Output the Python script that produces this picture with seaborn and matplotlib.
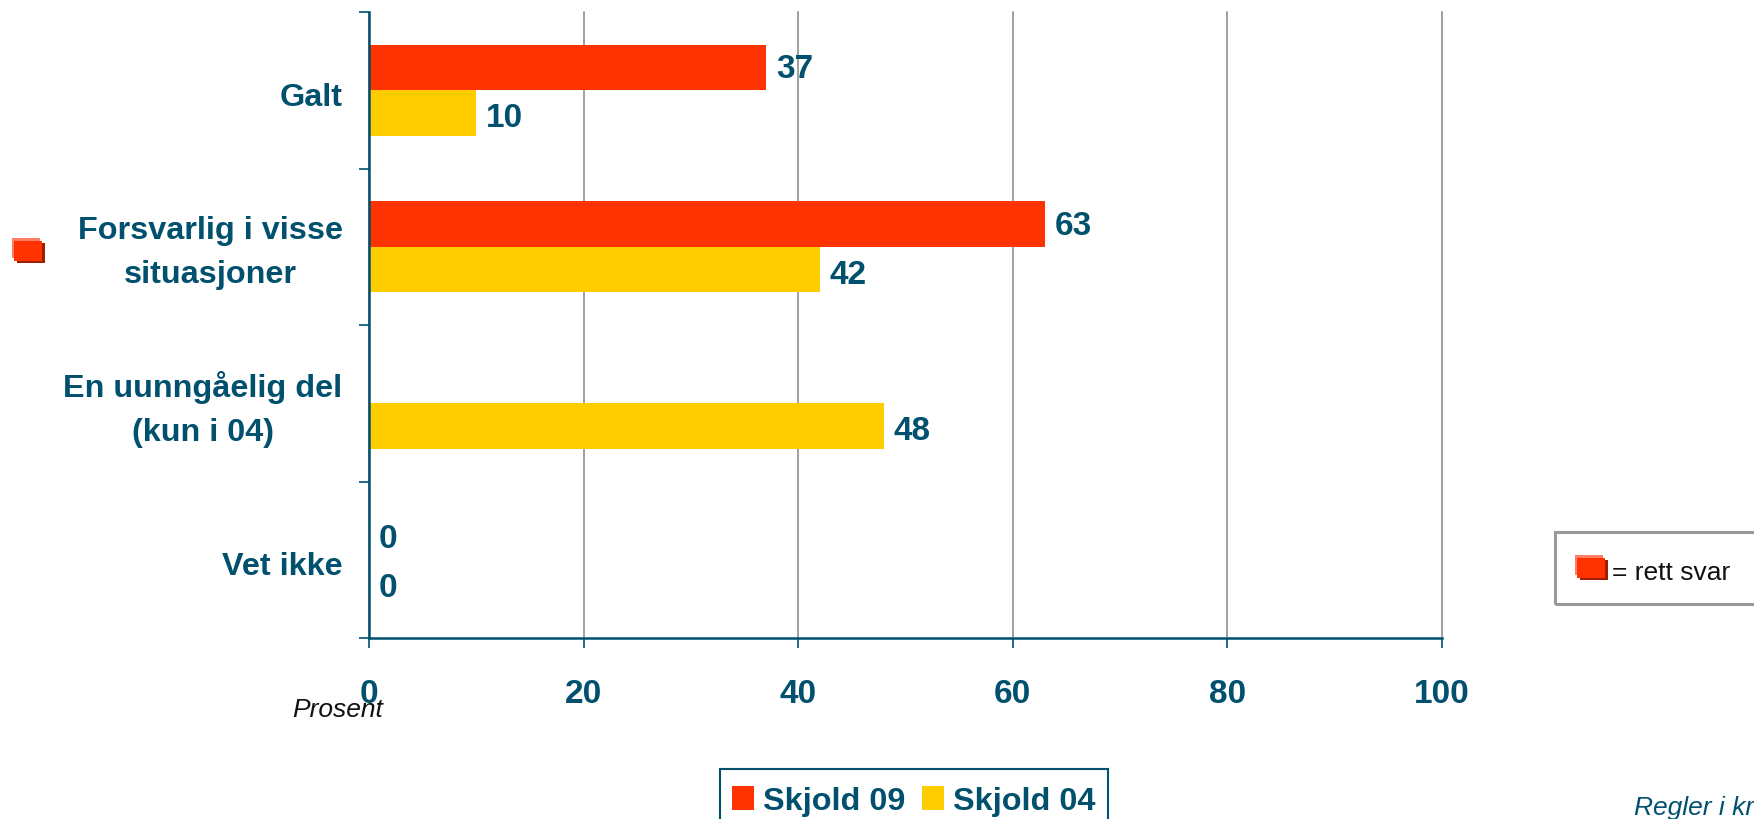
import matplotlib
matplotlib.use("Agg")
import matplotlib.pyplot as plt
import numpy as np
import pandas as pd
import seaborn as sns
from matplotlib.patches import Rectangle
from matplotlib.transforms import ScaledTranslation

categories = ["Galt", "Forsvarlig i visse\nsituasjoner", "En uunngåelig del\n(kun i 04)", "Vet ikke"]
skjold_09 = [37, 63, np.nan, 0]
skjold_04 = [10, 42, 48, 0]
x_ticks = [0, 20, 40, 60, 80, 100]

TEAL = "#00506E"
RED = "#FF3300"
YELLOW = "#FFCC00"
GREY = "#A0A0A0"
W, H = 1754, 820

sns.set_theme(style="white")
plt.rcParams["font.family"] = ["Liberation Sans", "DejaVu Sans"]

df = pd.DataFrame({"Svar": categories, "Skjold 09": skjold_09, "Skjold 04": skjold_04})
df = df.melt(id_vars="Svar", var_name="Skjema", value_name="Prosent")

fig = plt.figure(figsize=(W/100, H/100), dpi=100, facecolor="white")
ax = fig.add_axes([369/W, 1-639/H, (1442-369)/W, (639-13)/H])

sns.barplot(data=df, y="Svar", x="Prosent", hue="Skjema", order=categories,
	palette={"Skjold 09": RED, "Skjold 04": YELLOW},
	width=0.58, gap=0, saturation=1, errorbar=None, linewidth=0, ax=ax, zorder=3)

ax.set_xlim(0, 100)
ax.set_ylim(len(categories)-0.5, -0.5)
ax.set_xlabel("")
ax.set_ylabel("")

ax.set_xticks(x_ticks)
ax.set_xticklabels([str(t) for t in x_ticks], fontsize=24, fontweight="bold", color=TEAL)
ax.tick_params(axis="x", length=7, width=1.2, color=TEAL, pad=22, bottom=True)

# category labels sit between the tick marks, ticks are on the band edges
ax.set_yticks(np.arange(-0.5, len(categories)))
ax.set_yticklabels([])
ax.tick_params(axis="y", which="major", length=7, width=1.2, color=TEAL, left=True)
ax.set_yticks(np.arange(len(categories)), minor=True)
ax.set_yticklabels(categories, minor=True, fontsize=23.3, fontweight="bold", color=TEAL,
	multialignment="center", linespacing=1.6)
ax.tick_params(axis="y", which="minor", length=0, pad=19)
for lbl in ax.get_yticklabels(minor=True):
	# two line labels sit a little higher than the single line ones
	shift = 5 if "\n" in lbl.get_text() else -3
	lbl.set_transform(lbl.get_transform() + ScaledTranslation(0, shift/100, fig.dpi_scale_trans))

ax.grid(axis="x", color=GREY, linewidth=1.4, zorder=0)
for line in ax.get_xgridlines():
	line.set_clip_on(False)
ax.set_axisbelow(True)
sns.despine(ax=ax)
for side in ["left", "bottom"]:
	ax.spines[side].set_color(TEAL)
	ax.spines[side].set_linewidth(1.8)
	ax.spines[side].set_zorder(5)

for bars, drop in zip(ax.containers, [-1, -3.5]):
	for lbl in ax.bar_label(bars, fmt="%.0f", padding=7, fontsize=24, fontweight="bold", color=TEAL, clip_on=False):
		lbl.xyann = (7, drop)

sns.move_legend(ax, "upper left", bbox_to_anchor=(720/W, 1-775/H), bbox_transform=fig.transFigure,
	ncol=2, title=None, frameon=False,
	prop={"family": "Liberation Sans", "weight": "bold", "size": 23.3},
	labelcolor=TEAL, borderpad=0.36, borderaxespad=0, handlelength=0.7, handleheight=0.8,
	handletextpad=0.27, columnspacing=0.5)

def box(x0, y0, x1, y1, **kw):
	fig.add_artist(Rectangle((x0/W, 1-y1/H), (x1-x0)/W, (y1-y0)/H, transform=fig.transFigure, **kw))

def right_answer_icon(x, y):
	box(x+5, y+5, x+33, y+25, facecolor="#A01E00", edgecolor="none")
	box(x, y, x+28, y+20, facecolor="#FF7F66", edgecolor="none")
	box(x+2, y+3, x+30, y+23, facecolor=RED, edgecolor="none")

right_answer_icon(12, 239)
right_answer_icon(1575, 556)
box(1555, 533, 1770, 605, facecolor="none", edgecolor="#999999", linewidth=2.2)
box(720, 770, 1108, 830, facecolor="none", edgecolor=TEAL, linewidth=1.5)

fig.text(1612/W, 1-573/H, "= rett svar", fontsize=19, color="#111111", va="center", ha="left")
fig.text(338/W, 1-710/H, "Prosent", fontsize=19, style="italic", color="#111111", va="center", ha="center")
fig.text(1634/W, 1-815/H, "Regler i kr", fontsize=19, style="italic", color=TEAL, va="baseline", ha="left")

fig.savefig("out.png", dpi=100, facecolor="white")
